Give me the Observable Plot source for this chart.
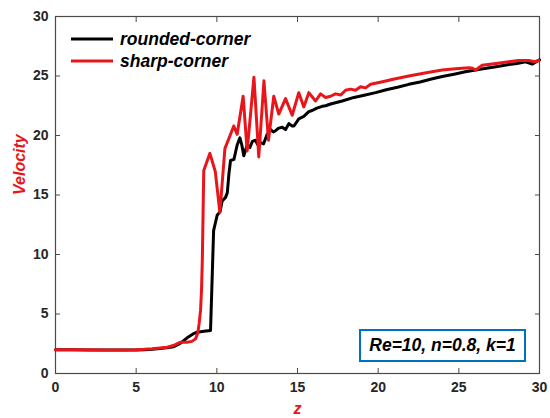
<!DOCTYPE html>
<html>
<head>
<meta charset="utf-8">
<script src="https://cdn.jsdelivr.net/npm/d3@7"></script>
<script src="https://cdn.jsdelivr.net/npm/@observablehq/plot@0.6"></script>
<style>
  html, body { margin: 0; padding: 0; background: #fff; }
  #wrap { position: relative; width: 550px; height: 418px; font-family: "Liberation Sans", Arial, sans-serif; }
  .legend { position: absolute; left: 70px; top: 28px; font-weight: bold; font-style: italic; font-size: 17.5px; color: #000; }
  .legend .row { display: flex; align-items: center; height: 22px; }
  .legend svg { margin-right: 6px; }
  .note { position: absolute; left: 359px; top: 329px; width: 163px; height: 29px; border: 2.5px solid #0072BD; background: #fff;
          display: flex; align-items: center; justify-content: center; font-weight: bold; font-style: italic; font-size: 17.5px; color: #000; }
</style>
</head>
<body>
<div id="wrap"></div>
<script>
// Series names
const seriesNames = ["rounded-corner", "sharp-corner"];
const seriesColors = ["#000000", "#e8161b"];

// rounded-corner (black)
const roundedX = [0,1,2,3,4,5,5.5,6,6.5,7,7.33,7.75,8.16,8.5,8.78,9.2,9.61,9.8,10.02,10.2,10.33,10.54,10.65,10.75,10.85,11.06,11.26,11.43,11.55,11.67,11.88,12.05,12.2,12.4,12.55,12.71,12.9,13.12,13.33,13.5,13.64,13.8,14.05,14.26,14.47,14.67,14.78,15.08,15.39,15.7,15.91,16.2,16.53,16.74,17.05,17.77,18.5,19.2,19.84,20.5,21.2,21.9,22.6,23.3,23.97,24.7,25.4,26.04,26.7,27.4,28.1,28.6,29.14,29.55,29.8,30];
const roundedY = [2,2,1.98,1.97,1.97,1.98,2.0,2.04,2.1,2.18,2.25,2.55,3.0,3.3,3.47,3.55,3.62,12.0,13.3,13.6,14.5,14.8,15.2,16.8,17.9,18.0,19.2,19.8,19.2,18.3,19.2,19.0,19.5,19.6,19.2,19.4,19.3,20.1,20.5,20.3,20.4,20.6,20.7,20.5,21.0,20.8,20.8,21.4,21.6,22.0,22.1,22.3,22.45,22.5,22.65,22.9,23.2,23.4,23.6,23.85,24.05,24.3,24.5,24.75,24.96,25.15,25.35,25.5,25.65,25.8,25.97,26.05,26.2,26.0,26.2,26.35];

// sharp-corner (red)
const sharpX = [0,1,2,3,4,5,5.5,6,6.5,6.92,7.3,7.75,8.16,8.45,8.68,8.82,8.9,8.99,9.05,9.1,9.15,9.19,9.57,9.9,10.19,10.5,11.05,11.26,11.63,11.88,12.3,12.6,12.92,13.2,13.53,13.84,14.26,14.67,15.08,15.39,15.7,16.12,16.43,16.74,17.05,17.36,17.67,17.98,18.29,18.6,18.91,19.22,19.53,20.2,21.0,21.9,22.9,23.97,24.8,25.62,25.85,26.04,26.45,27.3,28.1,28.7,29.34,29.7,29.96];
const sharpY = [2,2,1.99,1.98,1.98,2.0,2.03,2.08,2.15,2.21,2.35,2.63,2.63,2.7,2.91,3.4,4.17,5.3,7,9.5,13.7,17.06,18.5,17.0,13.55,18.9,20.8,20.1,23.3,18.7,24.9,18.2,24.6,19.6,23.3,21.8,23.1,21.7,23.6,22.4,23.6,22.9,23.5,23.2,23.3,23.5,23.4,23.8,23.9,23.8,24.1,24.0,24.3,24.5,24.75,25.0,25.25,25.5,25.6,25.7,25.65,25.5,25.9,26.05,26.2,26.3,26.3,26.2,26.3];

const xTicks = [0,5,10,15,20,25,30];
const yTicks = [0,5,10,15,20,25,30];
const xLabel = "z";
const yLabel = "Velocity";
const noteText = "Re=10, n=0.8, k=1";

const rounded = roundedX.map((x, i) => ({x, y: roundedY[i]}));
const sharp = sharpX.map((x, i) => ({x, y: sharpY[i]}));

const axisColor = "#4a4a4a";
const labelRed = "#e8161b";

const chart = Plot.plot({
  width: 550,
  height: 418,
  marginLeft: 55,
  marginRight: 11,
  marginTop: 16,
  marginBottom: 45,
  style: {fontFamily: "'Liberation Sans', Arial, sans-serif", fontSize: "14px", fontWeight: "bold", color: "#262626", background: "#fff"},
  x: {domain: [0, 30]},
  y: {domain: [0, 30]},
  marks: [
    Plot.axisX(xTicks, {anchor: "bottom", tickSize: -5, tickPadding: 14, label: null, stroke: axisColor, fontSize: 14, fontWeight: "bold"}),
    Plot.axisX(xTicks, {anchor: "top", tickSize: -5, tickFormat: () => "", label: null, stroke: axisColor}),
    Plot.axisY(yTicks, {anchor: "left", tickSize: -5, tickPadding: 12, label: null, stroke: axisColor, fontSize: 14, fontWeight: "bold"}),
    Plot.axisY(yTicks, {anchor: "right", tickSize: -5, tickFormat: () => "", label: null, stroke: axisColor}),
    Plot.frame({stroke: axisColor, strokeWidth: 1.2}),
    Plot.line(rounded, {x: "x", y: "y", stroke: seriesColors[0], strokeWidth: 3, strokeLinejoin: "round"}),
    Plot.line(sharp, {x: "x", y: "y", stroke: seriesColors[1], strokeWidth: 3, strokeLinejoin: "round"}),
    Plot.text([xLabel], {frameAnchor: "bottom", dy: 40, text: d => d, fill: labelRed, fontSize: 16, fontWeight: "bold", fontStyle: "italic"}),
    Plot.text([yLabel], {frameAnchor: "left", dx: -36, rotate: -90, text: d => d, fill: labelRed, fontSize: 16, fontWeight: "bold", fontStyle: "italic"})
  ]
});

const wrap = document.getElementById("wrap");
wrap.appendChild(chart);

const legend = document.createElement("div");
legend.className = "legend";
seriesNames.forEach((name, i) => {
  const row = document.createElement("div");
  row.className = "row";
  row.innerHTML = `<svg width="44" height="6"><line x1="1" y1="3" x2="43" y2="3" stroke="${seriesColors[i]}" stroke-width="3"/></svg><span>${name}</span>`;
  legend.appendChild(row);
});
wrap.appendChild(legend);

const note = document.createElement("div");
note.className = "note";
note.textContent = noteText;
wrap.appendChild(note);
</script>
</body>
</html>
